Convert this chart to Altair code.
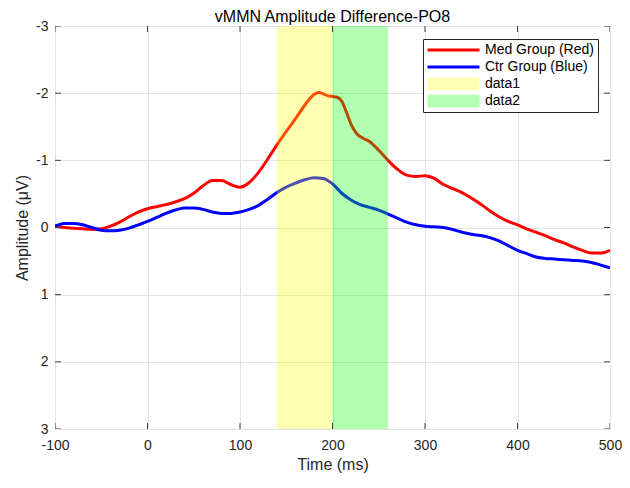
import altair as alt
import pandas as pd

# ---------------- data ----------------
red_t = [-100, -90, -80, -70, -60, -50, -40, -30, -20, -10, 0, 10, 20, 30, 40, 50, 60, 70, 80, 90,
         100, 110, 120, 130, 140, 150, 160, 170, 180, 185, 190, 195, 200, 205, 210, 215, 220, 226, 233,
         240, 250, 260, 270, 280, 290, 300, 310, 320, 330, 340, 350, 360, 370, 380, 390, 400, 410, 420,
         430, 440, 450, 460, 470, 480, 490, 500]
red_v = [-0.02, 0.0, 0.01, 0.02, 0.03, 0.02, -0.02, -0.08, -0.16, -0.23, -0.28, -0.31, -0.34, -0.38,
         -0.43, -0.51, -0.62, -0.70, -0.70, -0.64, -0.60, -0.67, -0.82, -1.02, -1.23, -1.43, -1.62,
         -1.82, -1.98, -2.01, -1.99, -1.96, -1.95, -1.94, -1.88, -1.72, -1.54, -1.40, -1.33, -1.28,
         -1.15, -1.00, -0.87, -0.78, -0.76, -0.77, -0.73, -0.64, -0.58, -0.52, -0.44, -0.35, -0.25,
         -0.16, -0.09, -0.04, 0.02, 0.07, 0.12, 0.18, 0.23, 0.29, 0.34, 0.38, 0.38, 0.34]

blue_t = list(range(-100, 501, 10))
blue_v = [-0.02, -0.06, -0.06, -0.04, 0.0, 0.04, 0.05, 0.04, 0.01, -0.04,
          -0.09, -0.15, -0.21, -0.26, -0.29, -0.29, -0.27, -0.23, -0.21, -0.21,
          -0.23, -0.27, -0.33, -0.42, -0.52, -0.60, -0.66, -0.71, -0.74, -0.73,
          -0.65, -0.51, -0.41, -0.34, -0.30, -0.26, -0.20, -0.14, -0.08, -0.04,
          -0.02, -0.01, 0.00, 0.03, 0.07, 0.10, 0.12, 0.15, 0.20, 0.27,
          0.34, 0.39, 0.44, 0.46, 0.47, 0.48, 0.49, 0.50, 0.52, 0.56, 0.60]

series_names = ["Med Group (Red)", "Ctr Group (Blue)", "data1", "data2"]
window_names = ["data1", "data2"]
window_start = [140, 200]
window_end = [200, 260]

x_ticks = [-100, 0, 100, 200, 300, 400, 500]
y_ticks = [-3, -2, -1, 0, 1, 2, 3]

# ---------------- tables ----------------
red_df = pd.DataFrame({"t": red_t, "v": red_v})
blue_df = pd.DataFrame({"t": blue_t, "v": blue_v})
win_df = pd.DataFrame({"start": window_start, "end": window_end, "series": window_names})
leg_df = pd.DataFrame({"series": series_names})
xt_df = pd.DataFrame({"t": x_ticks})
yt_df = pd.DataFrame({"v": y_ticks})

FONT = "Liberation Sans"
FRAME = "#404040"
TXT = "#262626"

xscale = alt.Scale(domain=[-100, 500], nice=False, zero=False)
yscale = alt.Scale(domain=[-3, 3], nice=False, zero=False, reverse=True)

xaxis = alt.Axis(values=x_ticks, labelExpr="'' + datum.value", ticks=False, tickSize=0,
                 domain=False, grid=True, gridColor="#e3e3e3", labelFontSize=14, labelColor=TXT,
                 labelFont=FONT, labelPadding=9, labelFlush=False, titleFontSize=16,
                 titleFont=FONT, titleColor=TXT, titleFontWeight="normal", titlePadding=4)
yaxis = alt.Axis(values=y_ticks, labelExpr="'' + datum.value", ticks=False, tickSize=0,
                 domain=False, grid=True, gridColor="#e3e3e3", labelFontSize=14, labelColor=TXT,
                 labelFont=FONT, labelPadding=7, labelFlush=False, titleFontSize=16,
                 titleFont=FONT, titleColor=TXT, titleFontWeight="normal", titlePadding=5)


def X(field):
    return alt.X(field, type="quantitative", scale=xscale, axis=xaxis, title="Time (ms)")


def Y(field):
    return alt.Y(field, type="quantitative", scale=yscale, axis=yaxis, title="Amplitude (μV)")


red_line = alt.Chart(red_df).mark_line(color="#ff0000", strokeWidth=3, interpolate="monotone",
                                       clip=True).encode(x=X("t"), y=Y("v"))
blue_line = alt.Chart(blue_df).mark_line(color="#0000ff", strokeWidth=3, interpolate="monotone",
                                         clip=True).encode(x=X("t"), y=Y("v"))

windows = alt.Chart(win_df).mark_rect(opacity=0.3).encode(
    x=X("start"),
    x2="end",
    fill=alt.Fill("series:N", scale=alt.Scale(domain=window_names, range=["#ffff00", "#00ff00"]),
                  legend=None),
)

LINE_PATH = "M-1,-0.23L7,-0.23L7,0.23L-1,0.23Z"
BOX_PATH = "M-1,-1L7,-1L7,1L-1,1Z"

# points placed outside the plot and clipped: they only carry the legend
legend_layer = alt.Chart(leg_df).mark_point(filled=True, size=169, clip=True, opacity=1).encode(
    x=alt.value(-200),
    y=alt.value(-200),
    color=alt.Color("series:N",
                    scale=alt.Scale(domain=series_names,
                                    range=["#ff0000", "#0000ff", "#ffffb3", "#b3ffb3"]),
                    legend=alt.Legend(title=None, orient="none", legendX=368, legendY=13,
                                      padding=4, rowPadding=3, strokeColor=TXT, fillColor="white",
                                      cornerRadius=0, labelFontSize=14, labelFont=FONT,
                                      labelColor="#000000", labelOffset=44, symbolSize=169,
                                      symbolStrokeWidth=0, symbolOpacity=1)),
    shape=alt.Shape("series:N",
                    scale=alt.Scale(domain=series_names,
                                    range=[LINE_PATH, LINE_PATH, BOX_PATH, BOX_PATH])),
)

tick_kw = dict(thickness=1, size=12, color=FRAME, clip=True, opacity=1)
top_ticks = alt.Chart(xt_df).mark_tick(orient="vertical", **tick_kw).encode(
    x=X("t"), y=alt.datum(-3))
bottom_ticks = alt.Chart(xt_df).mark_tick(orient="vertical", **tick_kw).encode(
    x=X("t"), y=alt.datum(3))
left_ticks = alt.Chart(yt_df).mark_tick(orient="horizontal", **tick_kw).encode(
    y=Y("v"), x=alt.datum(-100))
right_ticks = alt.Chart(yt_df).mark_tick(orient="horizontal", **tick_kw).encode(
    y=Y("v"), x=alt.datum(500))

chart = alt.layer(
    red_line, blue_line, windows, top_ticks, bottom_ticks, left_ticks, right_ticks, legend_layer
).properties(
    width=555,
    height=403,
    autosize=alt.AutoSizeParams(type="none"),
    padding={"left": 47, "top": 18, "right": 12, "bottom": 47},
    title=alt.TitleParams("vMMN Amplitude Difference-PO8", fontSize=16, font=FONT,
                          fontWeight="normal", color="#000000", offset=-6, anchor="middle",
                          frame="group"),
).configure_view(
    stroke=FRAME, strokeWidth=1
).configure(background="white")

chart.save("out.html", embed_options={"renderer": "svg", "actions": False})
